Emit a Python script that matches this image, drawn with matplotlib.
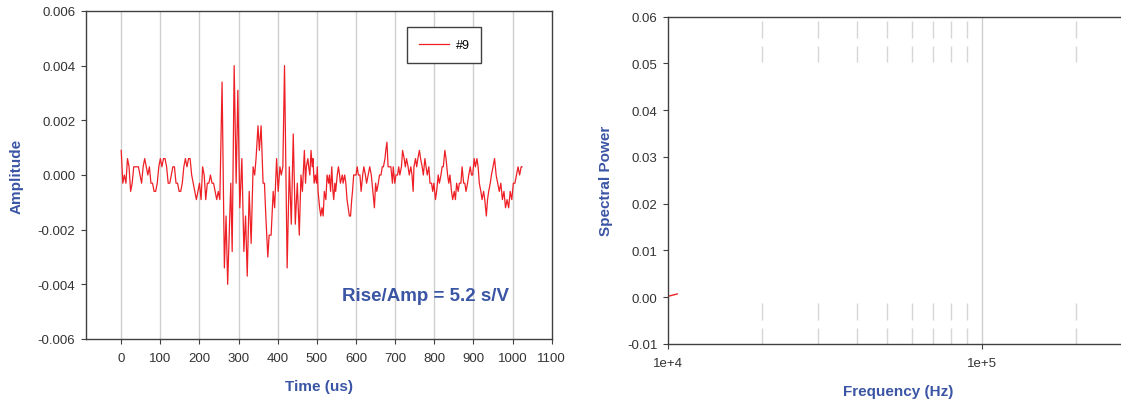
import math
import matplotlib
matplotlib.use("Agg")
import matplotlib.pyplot as plt
from matplotlib.ticker import FixedLocator, FuncFormatter, NullLocator, NullFormatter

plt.rcParams['font.family'] = ['Liberation Sans', 'DejaVu Sans']
plt.rcParams['axes.unicode_minus'] = False

# waveform #9 (time in us, amplitude in V)
time_us = [0, 4, 8, 12, 16, 20, 24, 28, 32, 36, 40, 44, 48, 52, 56, 60, 64, 68, 72, 76,
           80, 84, 88, 92, 96, 100, 104, 108, 112, 116, 120, 124, 128, 132, 136, 140, 144, 148, 152, 156,
           160, 164, 168, 172, 176, 180, 184, 188, 192, 196, 200, 204, 208, 212, 216, 220, 224,
           228, 232, 236, 240, 244, 248, 252,
           257.7, 263.6, 267.9, 272, 280, 283.5, 288.6, 293.7, 298, 303, 308.3, 313.4, 317.7, 322, 327,
           332, 337, 341, 344.5, 349.5, 353, 357.4, 362.5, 366, 369.5, 374.6, 378, 383, 388.3, 392,
           397, 401, 405.6, 409, 413, 417.3, 424, 429.5, 434.6, 439.6, 444.8, 449.9, 455, 459.3, 463, 468,
           471, 473, 477, 479, 482, 485, 488, 490, 493, 496, 499, 501, 503, 507, 510, 513, 516, 519, 523, 526,
           530, 532, 535, 538, 541, 543, 546, 548, 552, 555, 558, 560, 565, 567, 571, 574, 577, 580, 583, 586,
           589, 591, 594, 597, 600, 603, 606, 610, 613, 617, 620, 624, 627, 631, 635, 639, 643, 647, 650, 653,
           657, 660, 664, 667, 670, 674, 676, 679, 682, 686, 689, 693, 695, 699, 702, 706, 709, 712, 716, 719,
           723, 726, 729, 733, 736, 740, 743, 746, 748, 752, 755, 758, 762, 765, 769, 772, 776, 779, 782, 786,
           789, 793, 796, 799, 803, 806, 810, 813, 817, 820, 823, 827, 830, 834, 837, 840, 844, 847, 851, 854,
           857, 861, 864, 868, 871, 875, 878, 881, 885, 888, 892, 895, 898, 902, 905, 909, 912, 915, 919, 922,
           926, 929, 933, 936, 939, 943, 946, 950, 954, 958, 962, 966, 970, 974, 978, 982, 986, 990, 994, 998,
           1002, 1006, 1010, 1014, 1018, 1022, 1024]
amplitude = [0.0009, -0.0003, 0.0, -0.0003, 0.0006, 0.0003, -0.0006, -0.0003, 0.0003, 0.0003,
             0.0003, 0.0003, 0.0, -0.0003, 0.0003, 0.0006, 0.0003, 0.0, 0.0003, -0.0003,
             -0.0003, -0.0006, -0.0006, -0.0003, 0.0003, 0.0006, 0.0003, 0.0006, 0.0006, 0.0003,
             -0.0003, -0.0003, 0.0, 0.0003, 0.0003, -0.0003, -0.0003, -0.0006, -0.0006, -0.0003,
             0.0003, 0.0006, 0.0003, 0.0006, 0.0006, 0.0, -0.0003, -0.0006, -0.0009, -0.0006,
             -0.0003, -0.0009, 0.0003, 0.0, -0.0009, -0.0003, -0.0003,
             0.0, -0.0003, -0.0003, -0.0006, -0.0009, -0.0006, -0.0009,
             0.0034, -0.0034, -0.0015, -0.0040, -0.0003, -0.0028, 0.0040, -0.0003, 0.0031, -0.0012,
             0.0006, -0.0028, -0.0015, -0.0037, -0.0006, -0.0025, 0.0003, 0.0, 0.0006, 0.0018,
             0.0009, 0.0018, -0.0003, -0.0003, -0.0015, -0.0030, -0.0022, -0.0022, -0.0006, -0.0012,
             0.0006, -0.0006, 0.0003, 0.0, 0.0003, 0.0040, -0.0034, 0.0003, -0.0018, 0.0015,
             -0.0018, -0.0003, -0.0022, 0.0, -0.0006, 0.0009,
             -0.0003, 0.0003, 0.0006, 0.0003, 0.0, 0.0009, 0.0003, 0.0006, -0.0003, 0.0,
             -0.0003, 0.0003, -0.0006, -0.0012, -0.0015, -0.0012, -0.0015, -0.0006, -0.0009, 0.0,
             -0.0003, 0.0, -0.0006, 0.0003, -0.0006, -0.0009, -0.0003, -0.0006, 0.0, 0.0003,
             0.0, -0.0003, 0.0, -0.0003, 0.0, -0.0003, -0.0009, -0.0012, -0.0015, -0.0015,
             -0.0009, -0.0006, 0.0, 0.0, 0.0, 0.0003, 0.0, 0.0, -0.0006, 0.0,
             0.0003, 0.0, -0.0003, 0.0, 0.0003, 0.0, -0.0006, -0.0012, -0.0003, -0.0006,
             -0.0003, 0.0, 0.0, 0.0003, 0.0003, 0.0006, 0.0009, 0.0012, 0.0003, 0.0003,
             0.0003, -0.0003, 0.0003, -0.0003, 0.0, 0.0, 0.0003, 0.0, 0.0003, 0.0009,
             0.0006, 0.0003, 0.0006, 0.0003, 0.0, 0.0003, 0.0, -0.0006, 0.0003, 0.0006,
             0.0003, 0.0006, 0.0009, 0.0006, 0.0003, 0.0, 0.0006, 0.0003, 0.0, 0.0003,
             -0.0003, -0.0003, -0.0006, -0.0003, -0.0009, -0.0006, 0.0, -0.0003, 0.0, 0.0003,
             0.0003, 0.0009, 0.0006, 0.0, -0.0003, 0.0, -0.0006, -0.0009, -0.0006, -0.0009,
             -0.0003, -0.0006, -0.0003, -0.0003, 0.0003, -0.0003, -0.0003, -0.0006, -0.0003, 0.0,
             0.0003, 0.0, 0.0, 0.0006, 0.0003, 0.0006, 0.0003, -0.0003, -0.0006, -0.0009,
             -0.0006, -0.0009, -0.0015, -0.0009, -0.0006, -0.0003, 0.0, 0.0003, 0.0006, 0.0,
             -0.0003, -0.0006, -0.0003, -0.0009, -0.0006, -0.0012, -0.0009, -0.0012, -0.0006, -0.0009,
             -0.0003, -0.0003, 0.0, 0.0003, 0.0, 0.0003, 0.0003]

# spectrum (only a tiny piece is visible at the left edge)
freq_hz = [1.0e4, 1.07e4]
spectral_power = [0.0002, 0.0007]

time_ticks = [0, 100, 200, 300, 400, 500, 600, 700, 800, 900, 1000, 1100]
amp_ticks = [-0.006, -0.004, -0.002, 0.0, 0.002, 0.004, 0.006]
power_ticks = [-0.01, 0.0, 0.01, 0.02, 0.03, 0.04, 0.05, 0.06]
freq_major = [1e4, 1e5]
freq_minor = [2e4, 3e4, 4e4, 5e4, 6e4, 7e4, 8e4, 9e4, 2e5]

blue = '#3b55a5'
red = '#ee2026'
spine_c = '#404040'
tick_c = '#333333'
grid_c = '#cfcfcf'

fig = plt.figure(figsize=(11.21, 4.06), dpi=100)

W, H = 1121.0, 406.0
ax1 = fig.add_axes([86 / W, 1 - 340 / H, (551.7 - 86) / W, (340 - 12) / H])
ax2 = fig.add_axes([668 / W, 1 - 345 / H, (1121 - 668) / W + 0.002, (345 - 17.7) / H])

for ax in (ax1, ax2):
    for s in ax.spines.values():
        s.set_color(spine_c)
        s.set_linewidth(1.0)
    ax.tick_params(direction='out', length=3.6, width=0.8, color=spine_c,
                   labelcolor=tick_c, labelsize=9.5, pad=4)
    ax.set_axisbelow(True)

# left panel: waveform
ax1.plot(time_us, amplitude, color=red, lw=0.9, label='#9')
ax1.set_xlim(-90, 1100)
ax1.set_ylim(-0.006, 0.006)
ax1.xaxis.set_major_locator(FixedLocator(time_ticks))
ax1.yaxis.set_major_locator(FixedLocator(amp_ticks))
ax1.yaxis.set_major_formatter(FuncFormatter(lambda v, p: '%.3f' % v))
for t in time_ticks[:-1]:
    ax1.axvline(t, color=grid_c, lw=1.0, zorder=0)
ax1.tick_params(axis='x', pad=6)
ax1.set_xlabel('Time (us)', color=blue, fontsize=11, fontweight='bold')
ax1.set_ylabel('Amplitude', color=blue, fontsize=11, fontweight='bold')
ax1.xaxis.set_label_coords(0.5, -0.123)
ax1.yaxis.set_label_coords(-0.134, 0.5)
leg = ax1.legend(loc='upper left', bbox_to_anchor=(0.689, 0.951), fancybox=False,
                 edgecolor=spine_c, framealpha=1, fontsize=9, handlelength=2.4,
                 borderpad=0.95, handletextpad=0.55, borderaxespad=0)
leg.get_frame().set_linewidth(1.0)
ax1.text(778, -0.0044, 'Rise/Amp = 5.2 s/V', color=blue, fontsize=13.5,
         fontweight='bold', ha='center', va='center')

# right panel: spectrum
ax2.plot(freq_hz, spectral_power, color=red, lw=1.0)
ax2.set_xscale('log')
ax2.set_xlim(1e4, 10 ** 5.452)
ax2.set_ylim(-0.01, 0.06)
ax2.xaxis.set_major_locator(FixedLocator(freq_major))
ax2.xaxis.set_major_formatter(FuncFormatter(lambda v, p: '1e+%d' % round(math.log10(v))))
ax2.xaxis.set_minor_locator(NullLocator())
ax2.xaxis.set_minor_formatter(NullFormatter())
ax2.yaxis.set_major_locator(FixedLocator(power_ticks))
ax2.yaxis.set_major_formatter(FuncFormatter(lambda v, p: '%.2f' % v))
ax2.spines['right'].set_visible(False)
ax2.axvline(1e5, color=grid_c, lw=1.0, zorder=0)
px = 0.72
for f in freq_minor:
    ax2.axvline(f, color='#d6d6d6', lw=1.0, zorder=0,
                linestyle=(0, (16 * px, 8 * px, 17 * px, 241 * px)))
ax2.tick_params(axis='x', pad=6)
ax2.set_xlabel('Frequency (Hz)', color=blue, fontsize=11, fontweight='bold')
ax2.set_ylabel('Spectral Power', color=blue, fontsize=11, fontweight='bold')
ax2.xaxis.set_label_coords(0.5066, -0.122)
ax2.yaxis.set_label_coords(-0.121, 0.5)

fig.savefig('out.png', dpi=100)
